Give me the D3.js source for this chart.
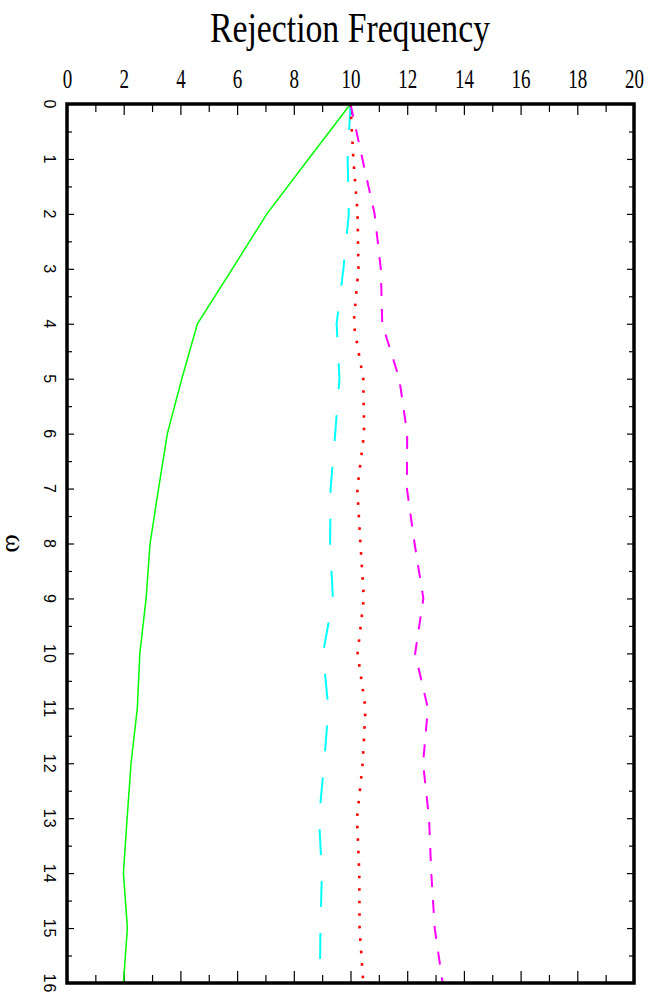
<!DOCTYPE html>
<html>
<head>
<meta charset="utf-8">
<script src="https://cdn.jsdelivr.net/npm/d3@7"></script>
<style>
  body { margin: 0; background: #fff; }
  svg { display: block; }
</style>
</head>
<body>
<svg id="chart" width="649" height="998"></svg>
<script>
// omega values (vertical axis, runs downward)
var omega = d3.range(0, 17);
// rejection frequencies
var greenSeries = [10.0, 8.52, 7.05, 5.83, 4.6, 4.05, 3.54, 3.23, 2.93, 2.79, 2.57, 2.48, 2.26, 2.12, 1.99, 2.13, 1.99];
var cyanSeries = [10.0, 9.9, 9.94, 9.75, 9.51, 9.61, 9.46, 9.3, 9.28, 9.38, 9.03, 9.22, 9.07, 8.89, 8.99, 8.94, 8.92];
var magentaSeries = [10.0, 10.42, 10.85, 11.07, 11.12, 11.72, 12.0, 11.99, 12.26, 12.57, 12.28, 12.73, 12.56, 12.77, 12.85, 12.97, 13.25];
var redSeries = [10.0, 10.1, 10.25, 10.28, 10.11, 10.45, 10.48, 10.24, 10.35, 10.47, 10.25, 10.53, 10.43, 10.23, 10.31, 10.32, 10.45];
var xTicks = d3.range(0, 21, 2);
var xMinor = d3.range(1, 21, 2);
var yTicks = d3.range(0, 17);
var yMinor = d3.range(0.5, 16, 1);

// plot frame (note: "top" is a reserved window global, so prefixed names)
var plotLeft = 67, plotRight = 634, plotTop = 104, plotBottom = 983;
var svg = d3.select('#chart');

var x = d3.scaleLinear().domain([0, 20]).range([plotLeft, plotRight]);
var y = d3.scaleLinear().domain([0, 16]).range([plotTop, plotBottom]);

// title
svg.append('text')
    .attr('x', 350).attr('y', 42)
    .attr('text-anchor', 'middle')
    .attr('font-family', 'Liberation Serif')
    .attr('font-size', 42)
    .attr('textLength', 280)
    .attr('lengthAdjust', 'spacingAndGlyphs')
    .text('Rejection Frequency');

// top axis: labels + major ticks
var topAxis = svg.append('g')
    .attr('transform', 'translate(0,' + plotTop + ')')
    .call(d3.axisTop(x).tickValues(xTicks).tickSize(-11).tickPadding(16).tickFormat(d3.format('d')));
topAxis.selectAll('text')
    .attr('font-family', 'Liberation Serif')
    .attr('font-size', 27)
    .attr('fill', '#000')
    .attr('textLength', function (d) { return String(d).length * 9.5; })
    .attr('lengthAdjust', 'spacingAndGlyphs');
svg.append('g')
    .attr('transform', 'translate(0,' + plotTop + ')')
    .call(d3.axisTop(x).tickValues(xMinor).tickSize(-8).tickFormat(''));

// bottom ticks
svg.append('g')
    .attr('transform', 'translate(0,' + plotBottom + ')')
    .call(d3.axisBottom(x).tickValues(xTicks).tickSize(-12).tickFormat(''));
svg.append('g')
    .attr('transform', 'translate(0,' + plotBottom + ')')
    .call(d3.axisBottom(x).tickValues(xMinor).tickSize(-8).tickFormat(''));

// left axis with rotated labels
var leftAxis = svg.append('g')
    .attr('transform', 'translate(' + plotLeft + ',0)')
    .call(d3.axisLeft(y).tickValues(yTicks).tickSize(-7).tickFormat(d3.format('d')));
leftAxis.selectAll('text')
    .attr('x', 0)
    .attr('dy', null)
    .attr('text-anchor', 'middle')
    .attr('dominant-baseline', 'central')
    .attr('transform', 'translate(-18,0) rotate(90)')
    .attr('font-family', 'Liberation Sans')
    .attr('font-size', 16)
    .attr('letter-spacing', 1)
    .attr('fill', '#000');
svg.append('g')
    .attr('transform', 'translate(' + plotLeft + ',0)')
    .call(d3.axisLeft(y).tickValues(yMinor).tickSize(-5).tickFormat(''));

// right ticks
svg.append('g')
    .attr('transform', 'translate(' + plotRight + ',0)')
    .call(d3.axisRight(y).tickValues(yTicks).tickSize(-7).tickFormat(''));
svg.append('g')
    .attr('transform', 'translate(' + plotRight + ',0)')
    .call(d3.axisRight(y).tickValues(yMinor).tickSize(-5).tickFormat(''));

svg.selectAll('.domain').remove();
svg.selectAll('.tick line').attr('stroke', '#000').attr('stroke-width', 1.2);

// omega label
svg.append('text')
    .attr('transform', 'translate(15,' + y(8) + ') rotate(90)')
    .attr('text-anchor', 'middle')
    .attr('dominant-baseline', 'central')
    .attr('font-family', 'Liberation Serif')
    .attr('font-size', 28)
    .text('ω');

// series lines
var line = d3.line()
    .x(function (d) { return x(d[1]); })
    .y(function (d) { return y(d[0]); });

function drawSeries(values, color, width, dash) {
    svg.append('path')
        .datum(omega.map(function (o, i) { return [o, values[i]]; }))
        .attr('d', line)
        .attr('fill', 'none')
        .attr('stroke', color)
        .attr('stroke-width', width)
        .attr('stroke-dasharray', dash);
}

drawSeries(greenSeries, '#00ff00', 1.5, null);
drawSeries(cyanSeries, '#00ffff', 2, '26,26');
drawSeries(magentaSeries, '#ff00ff', 2, '13,13');
drawSeries(redSeries, '#ff0000', 2.6, '2.6,9.9');

// frame
svg.append('rect')
    .attr('x', plotLeft).attr('y', plotTop)
    .attr('width', plotRight - plotLeft).attr('height', plotBottom - plotTop)
    .attr('fill', 'none')
    .attr('stroke', '#000')
    .attr('stroke-width', 3.5);
</script>
</body>
</html>
